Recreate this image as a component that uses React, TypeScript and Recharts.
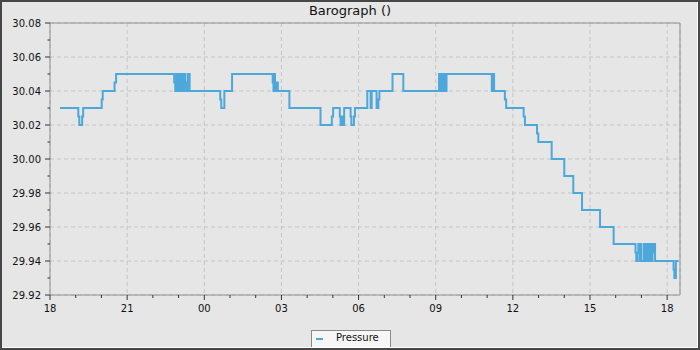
import React from 'react';
import { LineChart, Line, XAxis, YAxis, CartesianGrid, Legend, ReferenceLine } from 'recharts';

// time in hours after 18:00 of the first day
const hours = [
  0.39, 1.10, 1.14, 1.25, 1.29, 2.01, 2.05, 2.51, 2.57,
  4.83, 4.87, 4.91, 4.94, 4.97, 5.00, 5.04, 5.10, 5.13, 5.19, 5.22, 5.25, 5.30, 5.35, 5.43,
  6.62, 6.66, 6.78, 7.08,
  8.66, 8.69, 8.73, 8.75, 8.79, 8.86, 9.31,
  10.52, 10.96, 11.01, 11.27, 11.30, 11.35, 11.39, 11.44, 11.69, 11.72, 11.82, 11.86,
  12.34, 12.47, 12.51, 12.70, 12.77, 12.81, 13.32, 13.74,
  15.13, 15.16, 15.21, 15.25, 15.30, 15.32, 15.35, 15.42,
  17.18, 17.22, 17.27, 17.69, 17.74, 18.42, 18.47, 18.94, 18.99,
  19.51, 20.00, 20.35, 20.69, 21.39, 21.92,
  22.77, 22.80, 22.84, 22.88, 22.93, 22.96, 22.99, 23.09, 23.13, 23.17, 23.21, 23.25,
  23.30, 23.34, 23.39, 23.43, 23.47, 23.51, 23.53,
  24.25, 24.28, 24.34, 24.45,
];

const pressure = [
  30.03, 30.025, 30.02, 30.025, 30.03, 30.035, 30.04, 30.045, 30.05,
  30.045, 30.04, 30.05, 30.04, 30.05, 30.04, 30.05, 30.04, 30.05, 30.04, 30.05, 30.045, 30.04, 30.05, 30.04,
  30.035, 30.03, 30.04, 30.05,
  30.045, 30.04, 30.05, 30.04, 30.045, 30.04, 30.03,
  30.02, 30.025, 30.03, 30.025, 30.02, 30.025, 30.02, 30.03, 30.025, 30.02, 30.025, 30.03,
  30.04, 30.03, 30.04, 30.03, 30.035, 30.04, 30.05, 30.04,
  30.05, 30.04, 30.05, 30.04, 30.045, 30.05, 30.04, 30.05,
  30.04, 30.05, 30.04, 30.035, 30.03, 30.025, 30.02, 30.015, 30.01,
  30.00, 29.99, 29.98, 29.97, 29.96, 29.95,
  29.945, 29.94, 29.945, 29.95, 29.94, 29.95, 29.94, 29.95, 29.94, 29.95, 29.94, 29.95,
  29.94, 29.95, 29.94, 29.95, 29.945, 29.95, 29.94,
  29.935, 29.93, 29.94, 29.94,
];

const xDomain = [0, 24.5];
const xMinorTicks = [0, 1, 2, 3, 4, 5, 6, 7, 8, 9, 10, 11, 12, 13, 14, 15, 16, 17, 18, 19, 20, 21, 22, 23, 24];
const xMajorTicks = [0, 3, 6, 9, 12, 15, 18, 21, 24];
const xTickLabels = ['18', '21', '00', '03', '06', '09', '12', '15', '18'];

const yDomain = [29.92, 30.08];
const yMinorTicks = [29.92, 29.93, 29.94, 29.95, 29.96, 29.97, 29.98, 29.99, 30.0, 30.01, 30.02, 30.03, 30.04, 30.05, 30.06, 30.07, 30.08];
const yMajorTicks = [29.92, 29.94, 29.96, 29.98, 30.0, 30.02, 30.04, 30.06, 30.08];
const yTickLabels = ['29.92', '29.94', '29.96', '29.98', '30.00', '30.02', '30.04', '30.06', '30.08'];

const seriesName = 'Pressure';
const title = 'Barograph ()';

const data = hours.map((h, i) => ({ t: h, p: pressure[i] }));

const FONT = '"DejaVu Sans", sans-serif';
const LINE_COLOR = '#4ca8da';
const AXIS_COLOR = '#909090';
const TICK_COLOR = '#333333';

const XTick = (props: any) => {
  const { x, y, payload } = props;
  const idx = xMajorTicks.indexOf(payload.value);
  const major = idx >= 0;
  return (
    <g>
      <line x1={x} x2={x} y1={y} y2={y + (major ? 5 : 3)} stroke={TICK_COLOR} strokeWidth={1} />
      {major && (
        <text x={x} y={y + 16.5} textAnchor="middle" fontSize={10} fontFamily={FONT} fill="#111">
          {xTickLabels[idx]}
        </text>
      )}
    </g>
  );
};

const YTick = (props: any) => {
  const { x, y, payload } = props;
  const idx = yMajorTicks.findIndex((m) => Math.abs(m - payload.value) < 1e-6);
  const major = idx >= 0;
  return (
    <g>
      <line x1={x - (major ? 5 : 2.5)} x2={x} y1={y} y2={y} stroke={TICK_COLOR} strokeWidth={1} />
      {major && (
        <text x={x - 9} y={y + 3.7} textAnchor="end" fontSize={10} fontFamily={FONT} fill="#111">
          {yTickLabels[idx]}
        </text>
      )}
    </g>
  );
};

const LegendContent = () => (
  <div
    style={{
      boxSizing: 'border-box',
      width: 80,
      height: 18,
      border: '1px solid #8a8a8a',
      background: '#f6f6f6',
      display: 'flex',
      alignItems: 'center',
      fontFamily: FONT,
      fontSize: 10,
      color: '#111',
    }}
  >
    <span style={{ display: 'inline-block', width: 7, height: 2, background: LINE_COLOR, marginLeft: 4 }} />
    <span style={{ marginLeft: 13, lineHeight: '12px', marginTop: -2 }}>{seriesName}</span>
  </div>
);

export default function App() {
  return (
    <div style={{ position: 'absolute', left: 0, top: 0, width: 700, height: 350, background: '#e6e6e6', overflow: 'hidden' }}>
      <div
        style={{
          position: 'absolute',
          left: 0,
          top: 3,
          width: 700,
          textAlign: 'center',
          fontFamily: FONT,
          fontSize: 13,
          lineHeight: '15px',
          color: '#111',
        }}
      >
        {title}
      </div>
      <LineChart width={700} height={350} data={data} margin={{ top: 23, right: 20, left: 0, bottom: 7 }} style={{ position: 'absolute', left: 0, top: 0 }}>
        <XAxis xAxisId="grid" type="number" dataKey="t" domain={xDomain} ticks={xMajorTicks} hide allowDataOverflow />
        <YAxis yAxisId="grid" type="number" domain={yDomain} ticks={yMajorTicks} hide allowDataOverflow />
        <CartesianGrid xAxisId="grid" yAxisId="grid" stroke="#c4c4c4" strokeDasharray="4 3" />
        <XAxis
          type="number"
          dataKey="t"
          domain={xDomain}
          ticks={xMinorTicks}
          interval={0}
          height={30}
          tickSize={0}
          tickMargin={0}
          tickLine={false}
          tick={<XTick />}
          axisLine={{ stroke: AXIS_COLOR }}
          allowDataOverflow
        />
        <YAxis
          type="number"
          domain={yDomain}
          ticks={yMinorTicks}
          interval={0}
          width={50}
          tickSize={0}
          tickMargin={0}
          tickLine={false}
          tick={<YTick />}
          axisLine={{ stroke: AXIS_COLOR }}
          allowDataOverflow
        />
        <ReferenceLine y={yDomain[1]} stroke={AXIS_COLOR} />
        <ReferenceLine x={xDomain[1]} stroke={AXIS_COLOR} />
        <Line
          type="stepAfter"
          dataKey="p"
          name={seriesName}
          stroke={LINE_COLOR}
          strokeWidth={2}
          dot={false}
          isAnimationActive={false}
        />
        <Legend
          content={<LegendContent />}
          wrapperStyle={{ position: 'absolute', left: 311, top: 330, bottom: 'auto', width: 80, height: 18 }}
        />
      </LineChart>
      <div
        style={{
          position: 'absolute',
          left: 0,
          top: 0,
          width: 700,
          height: 350,
          boxSizing: 'border-box',
          border: '2px solid #474747',
          boxShadow: 'inset -1px -1px 0 #ffffff',
          pointerEvents: 'none',
        }}
      />
    </div>
  );
}
